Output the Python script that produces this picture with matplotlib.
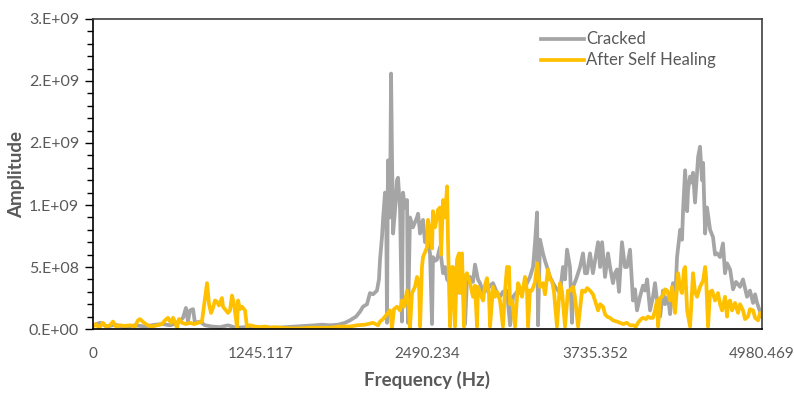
import math
import numpy as np
import matplotlib
matplotlib.use('Agg')
import matplotlib.pyplot as plt
from matplotlib.ticker import FuncFormatter, MultipleLocator

plt.rcParams['font.family'] = ['Lato', 'DejaVu Sans']

# Cracked beam spectrum (Hz, amplitude in 1e8)
freq_cracked = [0, 52, 104, 164, 238, 313, 387, 462, 521, 573, 625, 670, 692, 707, 722, 745, 759, 797,
                834, 886, 946, 1005, 1065, 1132, 1206, 1281, 1355, 1429, 1504, 1578, 1653, 1705, 1764,
                1824, 1876, 1913, 1958, 1988, 2010, 2040, 2062, 2085, 2114, 2129, 2137, 2152, 2159, 2174,
                2182, 2189, 2196, 2204, 2211, 2219, 2226, 2234, 2248, 2263, 2271, 2286, 2300, 2308, 2323,
                2338, 2345, 2360, 2382, 2397, 2412, 2420, 2435, 2449, 2457, 2472, 2487, 2501, 2509, 2524,
                2531, 2546, 2561, 2583, 2606, 2621, 2636, 2658, 2680, 2695, 2710, 2732, 2755, 2770, 2784,
                2807, 2829, 2844, 2866, 2881, 2904, 2933, 2956, 2978, 3008, 3030, 3052, 3082, 3105, 3127,
                3157, 3179, 3201, 3231, 3253, 3276, 3291, 3306, 3313, 3328, 3350, 3365, 3380, 3402, 3425,
                3447, 3477, 3499, 3514, 3529, 3551, 3566, 3574, 3596, 3626, 3648, 3663, 3678, 3700, 3722,
                3737, 3760, 3775, 3790, 3812, 3834, 3849, 3871, 3886, 3901, 3916, 3938, 3960, 3975, 3998,
                4020, 4035, 4050, 4072, 4095, 4110, 4125, 4147, 4169, 4184, 4199, 4222, 4244, 4259, 4281,
                4296, 4318, 4333, 4348, 4371, 4385, 4393, 4408, 4423, 4430, 4445, 4460, 4467, 4482, 4497,
                4505, 4519, 4534, 4542, 4557, 4571, 4594, 4616, 4631, 4646, 4668, 4690, 4705, 4720, 4743,
                4765, 4787, 4817, 4839, 4869, 4891, 4914, 4929, 4944, 4966, 4980]
amp_cracked = [0.3, 0.5, 0.2, 0.35, 0.15, 0.3, 0.2, 0.35, 0.4, 0.3, 0.45, 0.9, 1.7, 0.6, 1.5, 1.6, 0.5, 0.6,
               0.3, 0.2, 0.15, 0.3, 0.1, 0.15, 0.1, 0.15, 0.1, 0.15, 0.2, 0.25, 0.3, 0.35, 0.3,
               0.35, 0.5, 0.7, 1.0, 1.4, 1.8, 2.0, 2.9, 2.8, 3.1, 4.0, 5.6, 7.5, 8.8, 11.0,
               10.5, 0.5, 13.6, 12.0, 9.0, 20.6, 14.0, 7.7, 9.5, 12.0, 12.2, 9.6, 0.6, 11.0, 9.8,
               10.4, 0.5, 9.0, 8.2, 8.6, 9.0, 9.3, 7.7, 8.5, 8.8, 7.0, 7.7, 6.5, 6.1, 0.4,
               5.8, 5.5, 5.6, 6.6, 4.5, 5.0, 4.0, 3.7, 4.5, 3.0, 2.9, 3.5, 3.7, 0.4, 4.0,
               4.2, 3.8, 5.2, 4.0, 3.7, 3.0, 3.1, 3.5, 3.7, 2.9, 2.6, 3.0, 3.1, 0.3, 2.6,
               3.0, 2.9, 3.2, 3.7, 4.2, 5.0, 7.0, 9.4, 0.3, 7.2, 6.1, 5.5, 5.0, 4.2, 3.7,
               3.3, 2.9, 5.0, 4.0, 6.4, 5.0, 0.5, 3.4, 4.0, 5.0, 6.1, 4.5, 4.5, 6.1, 4.5,
               5.5, 7.0, 5.0, 7.0, 4.2, 6.1, 5.0, 3.7, 4.5, 4.8, 3.0, 7.0, 5.0, 5.0, 6.4,
               2.3, 3.2, 1.5, 2.6, 3.5, 3.1, 4.0, 1.5, 2.6, 3.7, 2.3, 1.0, 3.1, 2.0, 2.6,
               1.2, 3.7, 2.0, 5.8, 8.0, 7.2, 9.6, 12.8, 9.5, 11.2, 12.3, 11.8, 12.6, 10.2, 12.6,
               13.9, 14.7, 12.0, 13.4, 7.7, 9.8, 8.0, 7.4, 6.0, 6.1, 5.8, 6.9, 4.5, 5.3, 4.8,
               3.2, 3.8, 3.4, 4.0, 2.6, 3.1, 2.1, 2.8, 2.1, 1.4, 1.0]

# After self healing spectrum (Hz, amplitude in 1e8)
freq_healed = [0, 22, 45, 74, 97, 127, 149, 171, 201, 238, 275, 313, 335, 350, 380, 409, 439, 476, 514,
               536, 558, 581, 596, 610, 625, 640, 663, 692, 722, 752, 782, 811, 834, 849, 864, 879,
               893, 908, 923, 938, 960, 968, 990, 1005, 1020, 1035, 1050, 1065, 1072, 1080, 1094, 1109,
               1117, 1132, 1146, 1169, 1206, 1243, 1281, 1318, 1355, 1392, 1467, 1541, 1616, 1690, 1764,
               1839, 1913, 1965, 2025, 2085, 2122, 2137, 2159, 2174, 2196, 2211, 2226, 2241, 2263, 2286,
               2300, 2315, 2338, 2352, 2360, 2375, 2397, 2412, 2427, 2435, 2449, 2457, 2472, 2487, 2494,
               2509, 2524, 2531, 2546, 2561, 2568, 2583, 2591, 2606, 2621, 2636, 2643, 2658, 2673, 2680,
               2695, 2710, 2725, 2732, 2747, 2762, 2770, 2784, 2807, 2829, 2844, 2859, 2866, 2881, 2904,
               2918, 2933, 2948, 2956, 2978, 2993, 3008, 3030, 3052, 3067, 3082, 3097, 3105, 3120, 3142,
               3164, 3179, 3194, 3216, 3231, 3239, 3253, 3268, 3291, 3306, 3328, 3350, 3365, 3387, 3402,
               3417, 3432, 3454, 3477, 3492, 3514, 3536, 3551, 3574, 3588, 3611, 3641, 3663, 3678, 3700,
               3722, 3737, 3760, 3775, 3797, 3812, 3827, 3849, 3871, 3901, 3924, 3946, 3975, 3998, 4020,
               4042, 4057, 4080, 4095, 4117, 4132, 4147, 4169, 4184, 4199, 4207, 4222, 4236, 4259, 4274,
               4296, 4311, 4333, 4356, 4371, 4385, 4400, 4408, 4423, 4445, 4467, 4482, 4497, 4519, 4542,
               4557, 4564, 4579, 4594, 4609, 4631, 4653, 4668, 4683, 4705, 4720, 4727, 4743, 4757, 4780,
               4802, 4817, 4839, 4854, 4876, 4891, 4914, 4929, 4951, 4966, 4980]
amp_healed = [0.2, 0.4, 0.1, 0.5, 0.2, 0.3, 0.6, 0.2, 0.3, 0.25, 0.3, 0.2, 0.7, 0.8, 0.5, 0.3, 0.2, 0.3, 0.4,
              0.7, 0.9, 0.5, 0.9, 0.6, 0.1, 0.8, 0.5, 0.4, 0.5, 0.4, 0.5, 0.6, 2.5, 3.7, 2.0, 1.3,
              1.7, 2.3, 2.2, 1.9, 2.5, 1.8, 1.5, 1.3, 1.5, 2.7, 2.0, 0.8, 0.1, 2.3, 1.6, 1.8,
              1.7, 1.5, 0.2, 0.3, 0.2, 0.15, 0.2, 0.1, 0.15, 0.1, 0.05, 0.05, 0.1, 0.1, 0.1,
              0.2, 0.2, 0.3, 0.35, 0.5, 0.3, 0.6, 0.8, 1.0, 1.3, 1.5, 0.1, 1.6, 1.8, 1.5,
              2.3, 1.8, 3.1, 1.5, 0.1, 2.9, 3.4, 4.2, 3.8, 0.2, 5.0, 5.8, 6.2, 6.6, 8.8,
              7.8, 6.5, 9.5, 8.2, 9.0, 9.6, 9.8, 6.0, 10.4, 9.0, 11.5, 7.0, 0.2, 5.0, 5.0,
              0.2, 5.6, 6.1, 2.9, 6.1, 0.2, 4.2, 4.5, 3.7, 2.6, 3.5, 0.2, 3.4, 2.9, 2.3,
              3.5, 4.1, 2.8, 0.2, 3.4, 2.6, 3.0, 2.3, 0.2, 3.0, 5.0, 5.0, 2.0, 2.3, 0.2,
              3.7, 3.3, 2.6, 4.2, 3.0, 0.2, 3.1, 3.1, 3.8, 5.3, 3.4, 3.7, 2.8, 4.8, 4.0,
              3.9, 3.0, 0.2, 3.7, 3.0, 0.2, 3.1, 3.1, 3.4, 2.6, 0.2, 3.1, 3.0, 3.3, 3.1,
              2.8, 2.3, 1.5, 2.0, 1.8, 1.2, 1.0, 0.9, 0.7, 0.6, 0.5, 0.4, 0.5, 0.3, 0.3,
              0.2, 0.5, 0.8, 0.9, 0.8, 1.0, 0.9, 0.9, 1.5, 2.3, 0.2, 2.5, 2.6, 3.2, 3.1,
              2.3, 3.4, 1.3, 4.5, 3.3, 2.9, 4.8, 5.0, 1.5, 0.2, 4.5, 3.0, 2.6, 3.4, 3.9,
              5.0, 4.2, 0.2, 3.0, 3.1, 2.3, 2.9, 2.0, 1.5, 2.6, 1.0, 2.1, 2.3, 1.5, 2.1,
              1.3, 2.0, 1.5, 0.8, 1.0, 1.6, 1.5, 0.9, 0.7, 1.3, 1.2]

tick_freqs = [0, 1245.117, 2490.234, 3735.352, 4980.469]
tick_labels = ['0', '1245.117', '2490.234', '3735.352', '4980.469']


def excel_sci(v, pos):
    # mimic the 0.E+00 number format (rounds half up)
    if v <= 0:
        return '0.E+00'
    e = int(math.floor(math.log10(v) + 1e-9))
    m = int(v / 10 ** e + 0.5)
    if m >= 10:
        m, e = 1, e + 1
    return '%d.E+%02d' % (m, e)


fig = plt.figure(figsize=(7.94, 3.93), dpi=100)
ax = fig.add_axes([0.1171, 0.1628, 0.8426, 0.7889])

ax.plot(freq_cracked, np.array(amp_cracked) * 1e8, color='#A5A5A5', lw=2.7,
        solid_joinstyle='round', label='Cracked')
ax.plot(freq_healed, np.array(amp_healed) * 1e8, color='#FFC000', lw=2.7,
        solid_joinstyle='round', label='After Self Healing')

ax.set_xlim(0, 4980.469)
ax.set_ylim(0, 2.5e9)
ax.set_xticks(tick_freqs)
ax.set_xticklabels(tick_labels)
ax.yaxis.set_major_locator(MultipleLocator(5e8))
ax.yaxis.set_minor_locator(MultipleLocator(1e8))
ax.yaxis.set_major_formatter(FuncFormatter(excel_sci))

ax.tick_params(axis='x', length=0, pad=13, labelsize=11, labelcolor='#595959')
ax.tick_params(axis='y', which='major', length=6, width=1, direction='out', pad=4,
               labelsize=11.5, labelcolor='#595959', color='black')
ax.tick_params(axis='y', which='minor', length=4, width=1, direction='out', color='black')

for s in ['left', 'bottom']:
    ax.spines[s].set_color('black')
    ax.spines[s].set_linewidth(1.2)
for s in ['top', 'right']:
    ax.spines[s].set_color('#404040')
    ax.spines[s].set_linewidth(1.2)

ax.set_xlabel('Frequency (Hz)', fontsize=13.5, fontweight='bold', color='#595959', labelpad=7)
ax.set_ylabel('Amplitude', fontsize=13.5, fontweight='bold', color='#595959')
ax.yaxis.set_label_coords(-0.101, 0.5)

leg = ax.legend(loc='upper left', bbox_to_anchor=(0.651, 1.0), frameon=False, fontsize=12,
                handlelength=2.6, handletextpad=0.1, labelspacing=0.3, borderaxespad=0.35)
for t in leg.get_texts():
    t.set_color('#595959')

fig.savefig('out.png', dpi=100)
